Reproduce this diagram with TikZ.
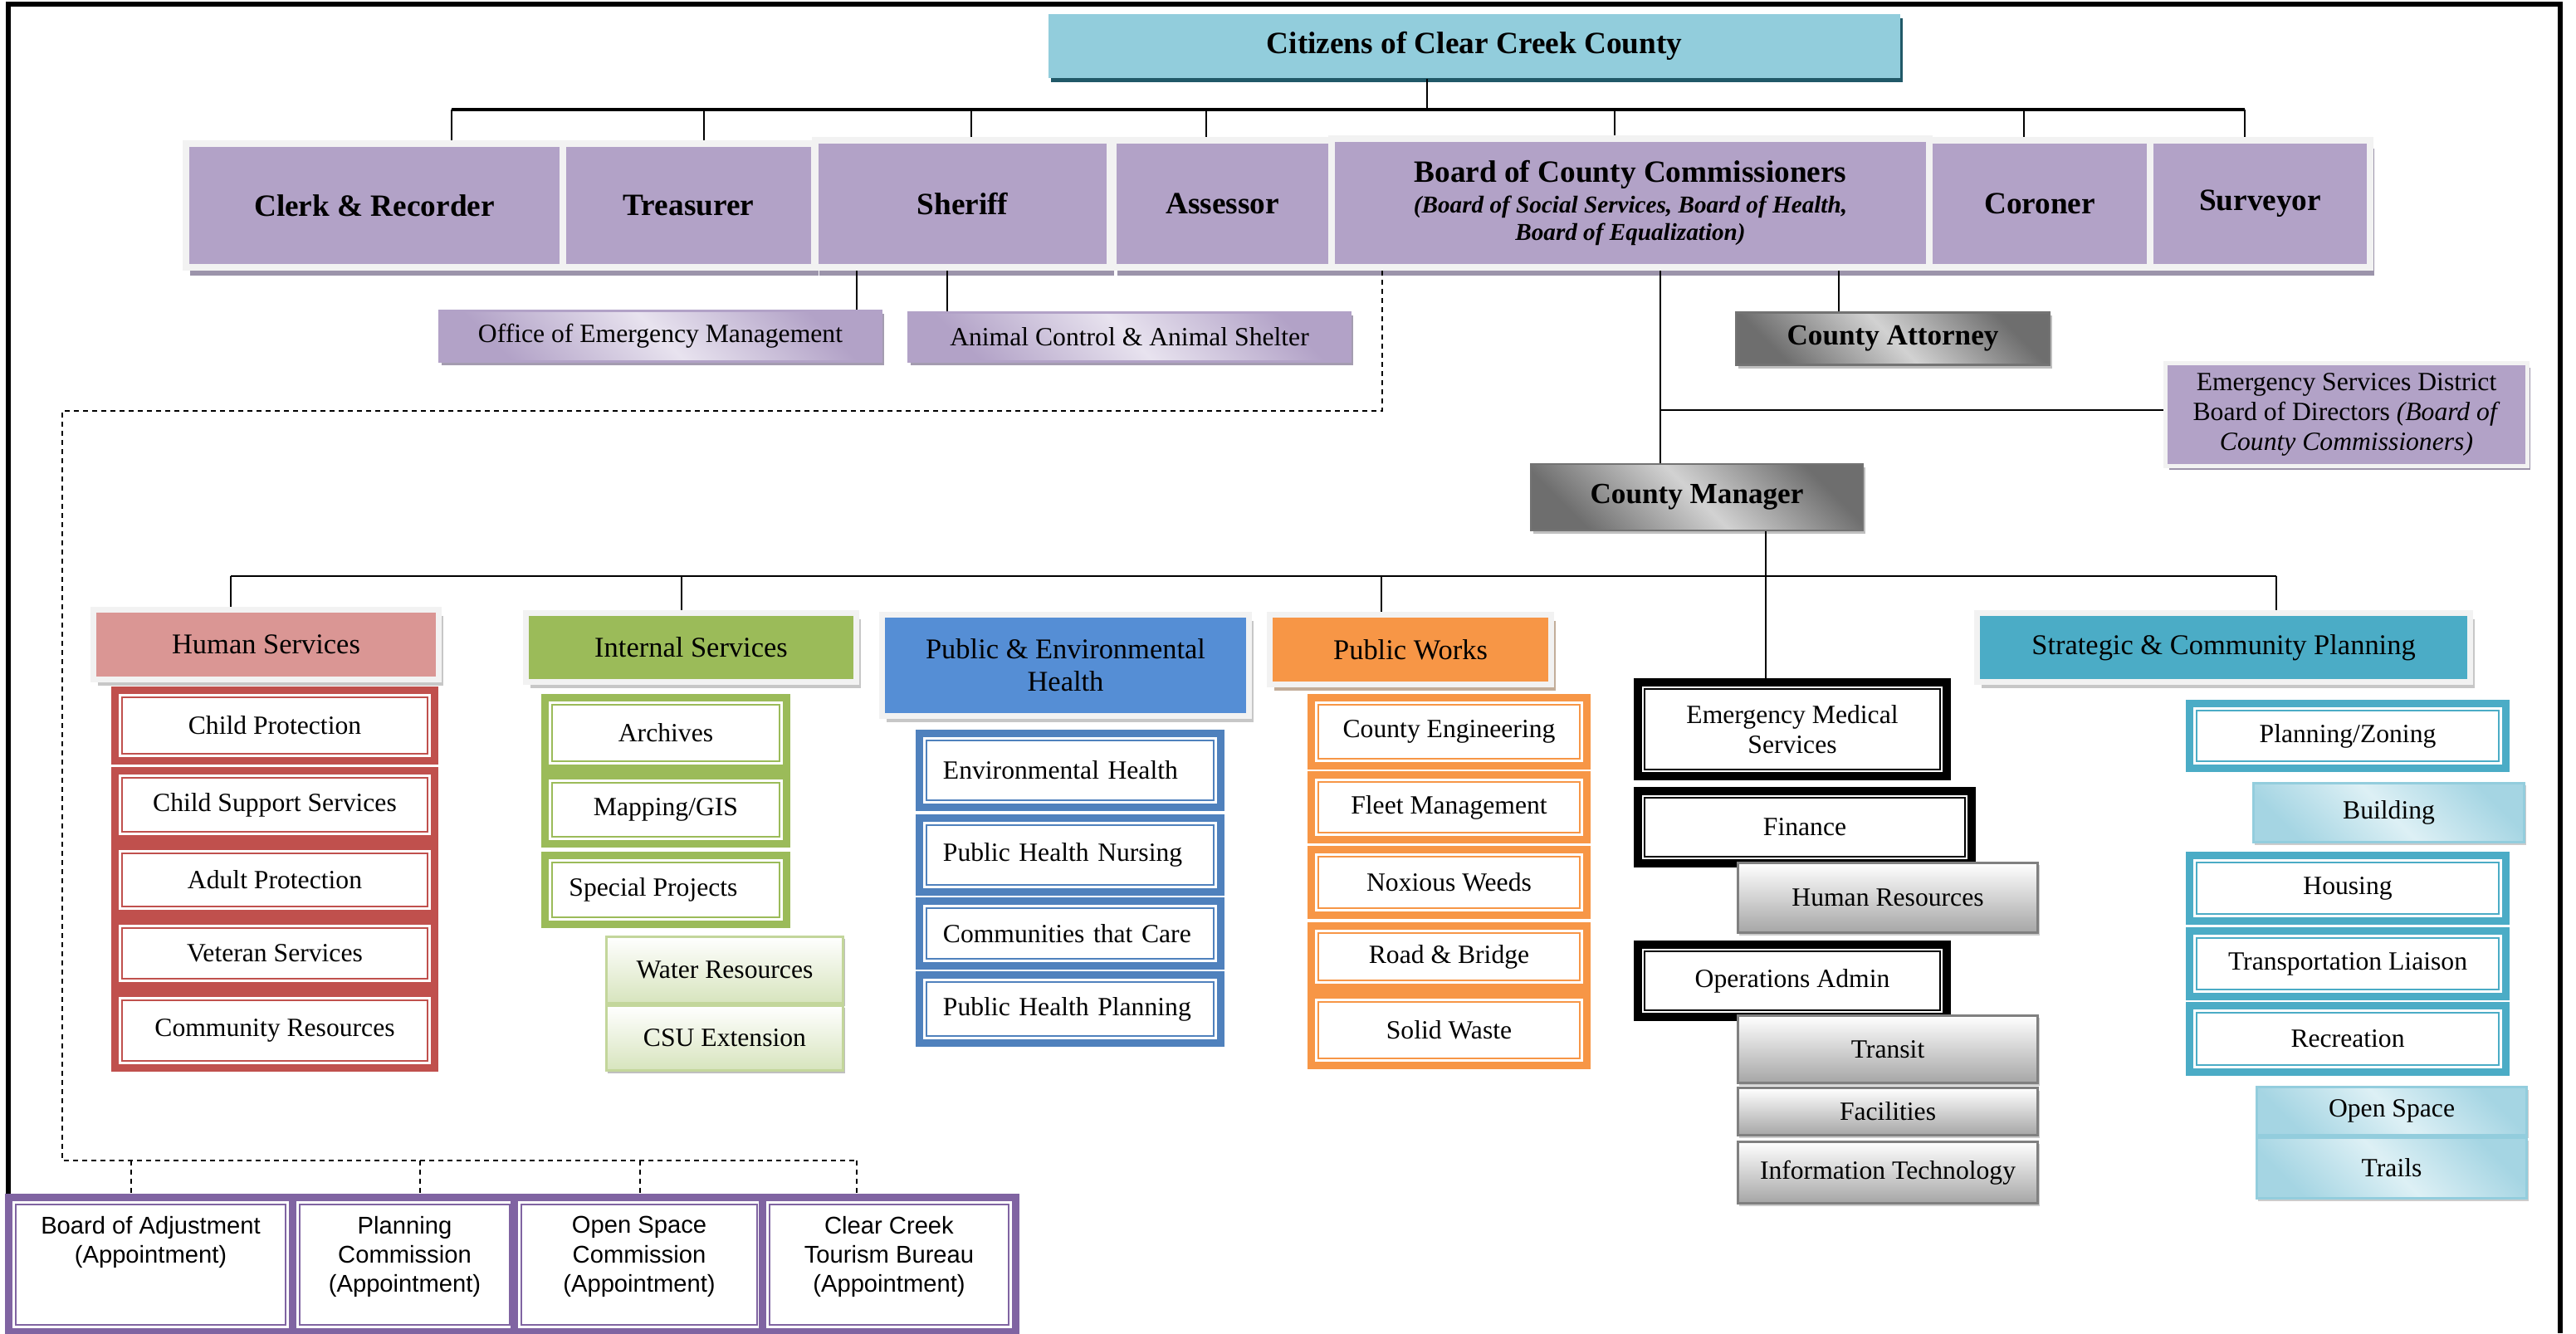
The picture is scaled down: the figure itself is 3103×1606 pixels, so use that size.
\documentclass[tikz,border=0pt]{standalone}
\usepackage{fontspec}
\setmainfont{Liberation Serif}
\setsansfont{Liberation Sans}
\usetikzlibrary{shadows}

\definecolor{citfill}{HTML}{92CDDC}
\definecolor{citshade}{HTML}{215968}
\definecolor{elect}{HTML}{B2A2C7}
\definecolor{framegrey}{HTML}{F2F2F2}
\definecolor{electshade}{HTML}{9C94AB}
\definecolor{lavlight}{HTML}{E8E3EF}
\definecolor{lavshade}{HTML}{A49CB0}
\definecolor{greydark}{HTML}{6E6E6E}
\definecolor{greylight}{HTML}{D2D2D2}
\definecolor{hsred}{HTML}{DA9694}
\definecolor{subred}{HTML}{C0504D}
\definecolor{isgreen}{HTML}{9BBB59}
\definecolor{peblue}{HTML}{558ED5}
\definecolor{subblue}{HTML}{4F81BD}
\definecolor{pworange}{HTML}{F79646}
\definecolor{scteal}{HTML}{4BACC6}
\definecolor{apptpurple}{HTML}{8064A2}
\definecolor{lightgreen}{HTML}{D7E4BD}
\definecolor{greenedge}{HTML}{C3D69B}
\definecolor{tealdark}{HTML}{A5D5E3}
\definecolor{teallight}{HTML}{DDF0F5}
\definecolor{tealedge}{HTML}{93CDDD}

\newcommand{\bigb}{\fontsize{10.6}{12}\selectfont\bfseries\upshape}
\newcommand{\bocci}{\fontsize{8.3}{9.4}\selectfont\bfseries\itshape}
\newcommand{\apptext}[2]{\parbox[c][1.62cm][t]{#1}{\centering\vspace*{0.23cm}#2}}

\begin{document}
\begin{tikzpicture}[x=0.01cm,y=-0.01cm,
  link/.style={line width=0.6pt},
  bus/.style={line width=0.9pt},
  appt link/.style={line width=0.5pt,dash pattern=on 0.06cm off 0.05cm},
  elected/.style={fill=elect,draw=framegrey,line width=0.08cm,font=\bigb,align=center,
    drop shadow={shadow xshift=0.05cm,shadow yshift=-0.1cm,fill=electshade,opacity=1}},
  header/.style 2 args={fill=#1,draw=framegrey,line width=0.07cm,align=center,
    font=\fontsize{9.8}{11.2}\selectfont,
    drop shadow={shadow xshift=0.055cm,shadow yshift=-0.075cm,fill=#2,opacity=1}},
  subbox/.style={draw=#1,fill=white,line width=0.09cm,align=center,inner sep=1pt,
    font=\fontsize{9}{10.4}\selectfont,
    path picture={\draw[#1,line width=0.02cm]
      ([shift={(0.085cm,0.085cm)}]path picture bounding box.south west) rectangle
      ([shift={(-0.085cm,-0.085cm)}]path picture bounding box.north east);}},
  lsubbox/.style={subbox=#1,text width=3.06cm,align=left,inner xsep=0.285cm},
  boss/.style={draw=black!55,line width=0.6pt,top color=greydark,bottom color=greydark,
    middle color=greylight,shading angle=-45,font=\fontsize{10}{12}\selectfont\bfseries,
    drop shadow={shadow xshift=0.03cm,shadow yshift=-0.04cm,fill=black!25,opacity=1}},
  lavbox/.style={draw=elect,line width=0.03cm,top color=elect,bottom color=elect,
    middle color=lavlight,shading angle=-45,font=\fontsize{9}{10.4}\selectfont,
    drop shadow={shadow xshift=0.03cm,shadow yshift=-0.04cm,fill=lavshade,opacity=1}},
  greybox/.style={draw=black!50,line width=0.03cm,top color=white,bottom color=black!35,
    font=\fontsize{9}{10.4}\selectfont,
    drop shadow={shadow xshift=0.02cm,shadow yshift=-0.03cm,fill=black!20,opacity=1}},
  greenbox/.style={draw=greenedge,line width=0.03cm,top color=white,bottom color=lightgreen,
    font=\fontsize{9}{10.4}\selectfont,
    drop shadow={shadow xshift=0.02cm,shadow yshift=-0.03cm,fill=black!25,opacity=1}},
  tealbox/.style={draw=tealedge,line width=0.03cm,top color=tealdark,bottom color=tealdark,
    middle color=teallight,shading angle=-45,font=\fontsize{9}{10.4}\selectfont,
    drop shadow={shadow xshift=0.02cm,shadow yshift=-0.03cm,fill=black!20,opacity=1}},
  appt/.style={draw=apptpurple,fill=white,line width=0.09cm,inner sep=0pt,
    font=\sffamily\fontsize{8.3}{10}\selectfont,
    path picture={\draw[apptpurple,line width=0.02cm]
      ([shift={(0.085cm,0.085cm)}]path picture bounding box.south west) rectangle
      ([shift={(-0.085cm,-0.085cm)}]path picture bounding box.north east);}}]

\useasboundingbox (0,0) rectangle (3103,1606);

% Page frame
\draw[line width=0.06cm] (10,1606) -- (10,5) -- (3084,5) -- (3084,1606);

% Citizens and elected offices
\node[fill=citfill,minimum width=10.26cm,minimum height=0.77cm,font=\bigb,
  drop shadow={shadow xshift=0.03cm,shadow yshift=-0.05cm,fill=citshade,opacity=1}]
  (cit) at (1776,55.5) {Citizens of Clear Creek County};

\node[elected,minimum width=4.54cm,minimum height=1.49cm] (clerk) at (451,247.5) {Clerk \& Recorder};
\node[elected,minimum width=3.03cm,minimum height=1.49cm] (treas) at (829.5,247.5) {Treasurer};
\node[elected,minimum width=3.55cm,minimum height=1.53cm] (sheriff) at (1159.5,245.5) {Sheriff};
\node[elected,minimum width=2.63cm,minimum height=1.53cm] (assessor) at (1472.5,245.5) {Assessor};
\node[elected,minimum width=7.20cm,minimum height=1.55cm,font=\bocci] (bocc) at (1964,244.5)
  {\bigb Board of County Commissioners\\[1.2pt] \bocci (Board of Social Services, Board of Health,\\ \bocci Board of Equalization)};
\node[elected,minimum width=2.66cm,minimum height=1.53cm] (coroner) at (2457,245.5) {Coroner};
\node[elected,minimum width=2.65cm,minimum height=1.53cm] (surveyor) at (2722.5,245.5) {Surveyor};

% Second level
\node[lavbox,minimum width=5.32cm,minimum height=0.61cm] (oem) at (795.5,405) {Office of Emergency Management};
\node[lavbox,minimum width=5.32cm,minimum height=0.59cm] (animal) at (1360.5,406) {Animal Control \& Animal Shelter};
\node[boss,minimum width=3.77cm,minimum height=0.63cm] (attorney) at (2280,408) {County Attorney};
\node[fill=elect,draw=framegrey,line width=0.05cm,minimum width=4.35cm,minimum height=1.23cm,
  align=center,font=\fontsize{9}{10.2}\selectfont,
  drop shadow={shadow xshift=0.04cm,shadow yshift=-0.05cm,fill=electshade,opacity=1}]
  (esd) at (2826.5,499.5) {Emergency Services District\\Board of Directors \textit{(Board of}\\\textit{County Commissioners)}};
\node[boss,minimum width=4.0cm,minimum height=0.80cm] (manager) at (2044,599) {County Manager};

% Departments
\node[header={hsred}{black!22},minimum width=4.16cm,minimum height=0.84cm] (humsvc) at (320.5,776.5) {Human Services};
\node[header={isgreen}{black!22},minimum width=3.98cm,minimum height=0.83cm] (intsvc) at (832.5,780) {Internal Services};
\node[header={peblue}{black!22},minimum width=4.42cm,minimum height=1.22cm] (pubhealth) at (1283.5,801.5) {Public \& Environmental\\Health};
\node[header={pworange}{orange!40!black!40},minimum width=3.39cm,minimum height=0.84cm] (pubworks) at (1699,782.5) {Public Works};
\node[header={scteal}{black!22},minimum width=5.94cm,minimum height=0.83cm] (strat) at (2678.5,780) {Strategic \& Community Planning};

% Human Services
\node[subbox=subred,minimum width=3.85cm,minimum height=0.85cm] (cp) at (331,874) {Child Protection};
\node[subbox=subred,minimum width=3.85cm,minimum height=0.82cm] (css) at (331,969.5) {Child Support Services};
\node[subbox=subred,minimum width=3.85cm,minimum height=0.81cm] (ap) at (331,1060) {Adult Protection};
\node[subbox=subred,minimum width=3.85cm,minimum height=0.78cm] (vs) at (331,1148.5) {Veteran Services};
\node[subbox=subred,minimum width=3.85cm,minimum height=0.90cm] (cr) at (331,1241.5) {Community Resources};

% Internal Services
\node[subbox=isgreen,minimum width=2.91cm,minimum height=0.85cm] (arch) at (802,883) {Archives};
\node[subbox=isgreen,minimum width=2.91cm,minimum height=0.82cm] (gis) at (802,975.5) {Mapping/GIS};
\node[subbox=isgreen,minimum width=2.91cm,minimum height=0.83cm] (spec) at (802,1072) {Special Projects\hspace{0.3cm}};
\node[greenbox,minimum width=2.85cm,minimum height=0.80cm] (water) at (873,1168.5) {Water Resources\hspace{0.3cm}};
\node[greenbox,minimum width=2.85cm,minimum height=0.78cm] (csu) at (873,1250.5) {CSU Extension};

% Public & Environmental Health
\node[lsubbox=subblue,minimum height=0.89cm] (envh) at (1289,928) {Environmental Health};
\node[lsubbox=subblue,minimum height=0.89cm] (phn) at (1289,1030) {Public Health Nursing};
\node[lsubbox=subblue,minimum height=0.78cm] (ctc) at (1289,1124.5) {Communities that Care};
\node[lsubbox=subblue,minimum height=0.82cm] (php) at (1289,1215.5) {Public Health Planning};

% Public Works
\node[subbox=pworange,minimum width=3.32cm,minimum height=0.82cm] (eng) at (1745.5,881.5) {County Engineering};
\node[subbox=pworange,minimum width=3.32cm,minimum height=0.78cm] (fleet) at (1745.5,972.5) {Fleet Management};
\node[subbox=pworange,minimum width=3.32cm,minimum height=0.79cm] (weeds) at (1745.5,1063) {Noxious Weeds};
\node[subbox=pworange,minimum width=3.32cm,minimum height=0.74cm] (road) at (1745.5,1152.5) {Road \& Bridge};
\node[subbox=pworange,minimum width=3.32cm,minimum height=0.85cm] (waste) at (1745.5,1241) {Solid Waste};

% Manager's offices
\node[subbox=black,line width=0.1cm,minimum width=3.72cm,minimum height=1.13cm] (ems) at (2159,878.5) {Emergency Medical\\Services};
\node[subbox=black,line width=0.1cm,minimum width=4.02cm,minimum height=0.87cm] (fin) at (2174,996.5) {Finance};
\node[subbox=black,line width=0.1cm,minimum width=3.72cm,minimum height=0.87cm] (ops) at (2159,1181.5) {Operations Admin};
\node[greybox,minimum width=3.61cm,minimum height=0.84cm] (hr) at (2274,1081.5) {Human Resources};
\node[greybox,minimum width=3.61cm,minimum height=0.81cm] (transit) at (2274,1264) {Transit};
\node[greybox,minimum width=3.61cm,minimum height=0.57cm] (fac) at (2274,1339) {Facilities};
\node[greybox,minimum width=3.61cm,minimum height=0.74cm] (it) at (2274,1412.5) {Information Technology};

% Strategic & Community Planning
\node[subbox=scteal,minimum width=3.81cm,minimum height=0.78cm] (zoning) at (2828,886.5) {Planning/Zoning};
\node[tealbox,minimum width=3.26cm,minimum height=0.71cm] (bldg) at (2877.5,979) {Building};
\node[subbox=scteal,minimum width=3.81cm,minimum height=0.79cm] (housing) at (2828,1070) {Housing};
\node[subbox=scteal,minimum width=3.81cm,minimum height=0.79cm] (transp) at (2828,1161) {Transportation Liaison};
\node[subbox=scteal,minimum width=3.81cm,minimum height=0.80cm] (rec) at (2828,1251.5) {Recreation};
\node[tealbox,minimum width=3.25cm,minimum height=0.58cm] (opensp) at (2881,1338.5) {Open Space};
\node[tealbox,minimum width=3.25cm,minimum height=0.73cm] (trails) at (2881,1407) {Trails};

% Appointed boards
\node[appt] (adj) at (181.5,1523.5) {\apptext{3.42cm}{Board of Adjustment\\(Appointment)}};
\node[appt] (plan) at (487.5,1523.5) {\apptext{2.70cm}{Planning\\Commission\\(Appointment)}};
\node[appt] (osc) at (770,1523.5) {\apptext{3.01cm}{Open Space\\Commission\\(Appointment)}};
\node[appt] (tour) at (1071,1523.5) {\apptext{3.05cm}{Clear Creek\\Tourism Bureau\\(Appointment)}};

% Bus points
\coordinate (citx) at (1719,132);
\coordinate (clerkx) at (544,132);
\coordinate (treasx) at (848,132);
\coordinate (sheriffx) at (1170,132);
\coordinate (assessx) at (1453,132);
\coordinate (boccx) at (1945,132);
\coordinate (coronerx) at (2438,132);
\coordinate (survx) at (2704,132);
\coordinate (oemx) at (1032,350);
\coordinate (animalx) at (1141,350);
\coordinate (attyx) at (2215,350);
\coordinate (mgrx) at (2000,494);
\coordinate (hsx) at (278,694);
\coordinate (isx) at (821,694);
\coordinate (pwx) at (1664,694);
\coordinate (emsx) at (2127,694);
\coordinate (scx) at (2742,694);
\coordinate (dashx) at (1665,495);
\coordinate (dashcorner) at (75,495);
\coordinate (apptbus) at (75,1398);
\coordinate (adjx) at (158,1398);
\coordinate (planx) at (506,1398);
\coordinate (oscx) at (771,1398);
\coordinate (tourx) at (1032,1398);

% Elected offices
\draw[link] (citx |- cit.south) -- (citx);
\draw[bus] (clerkx) -- (survx);
\draw[link] (clerkx) -- (clerkx |- clerk.north);
\draw[link] (treasx) -- (treasx |- treas.north);
\draw[link] (sheriffx) -- (sheriffx |- sheriff.north);
\draw[link] (assessx) -- (assessx |- assessor.north);
\draw[link] (boccx) -- (boccx |- bocc.north);
\draw[link] (coronerx) -- (coronerx |- coroner.north);
\draw[link] (survx) -- (survx |- surveyor.north);

% Sheriff and commissioners
\draw[link] (oemx |- sheriff.south) -- (oemx |- oem.north);
\draw[link] (animalx |- sheriff.south) -- (animalx |- animal.north);
\draw[link] (attyx |- bocc.south) -- (attyx |- attorney.north);
\draw[link] (mgrx |- bocc.south) -- (mgrx |- manager.north);
\draw[link] (mgrx) -- (mgrx -| esd.west);

% County Manager
\draw[link] (hsx) -- (scx);
\draw[link] (emsx |- manager.south) -- (emsx |- ems.north);
\draw[link] (hsx) -- (hsx |- humsvc.north);
\draw[link] (isx) -- (isx |- intsvc.north);
\draw[link] (pwx) -- (pwx |- pubworks.north);
\draw[link] (scx) -- (scx |- strat.north);

% Appointments
\draw[appt link] (dashx |- bocc.south) -- (dashx) -- (dashcorner) -- (apptbus) -- (tourx);
\draw[appt link] (adjx) -- (adjx |- adj.north);
\draw[appt link] (planx) -- (planx |- plan.north);
\draw[appt link] (oscx) -- (oscx |- osc.north);
\draw[appt link] (tourx) -- (tourx |- tour.north);

\end{tikzpicture}
\end{document}
